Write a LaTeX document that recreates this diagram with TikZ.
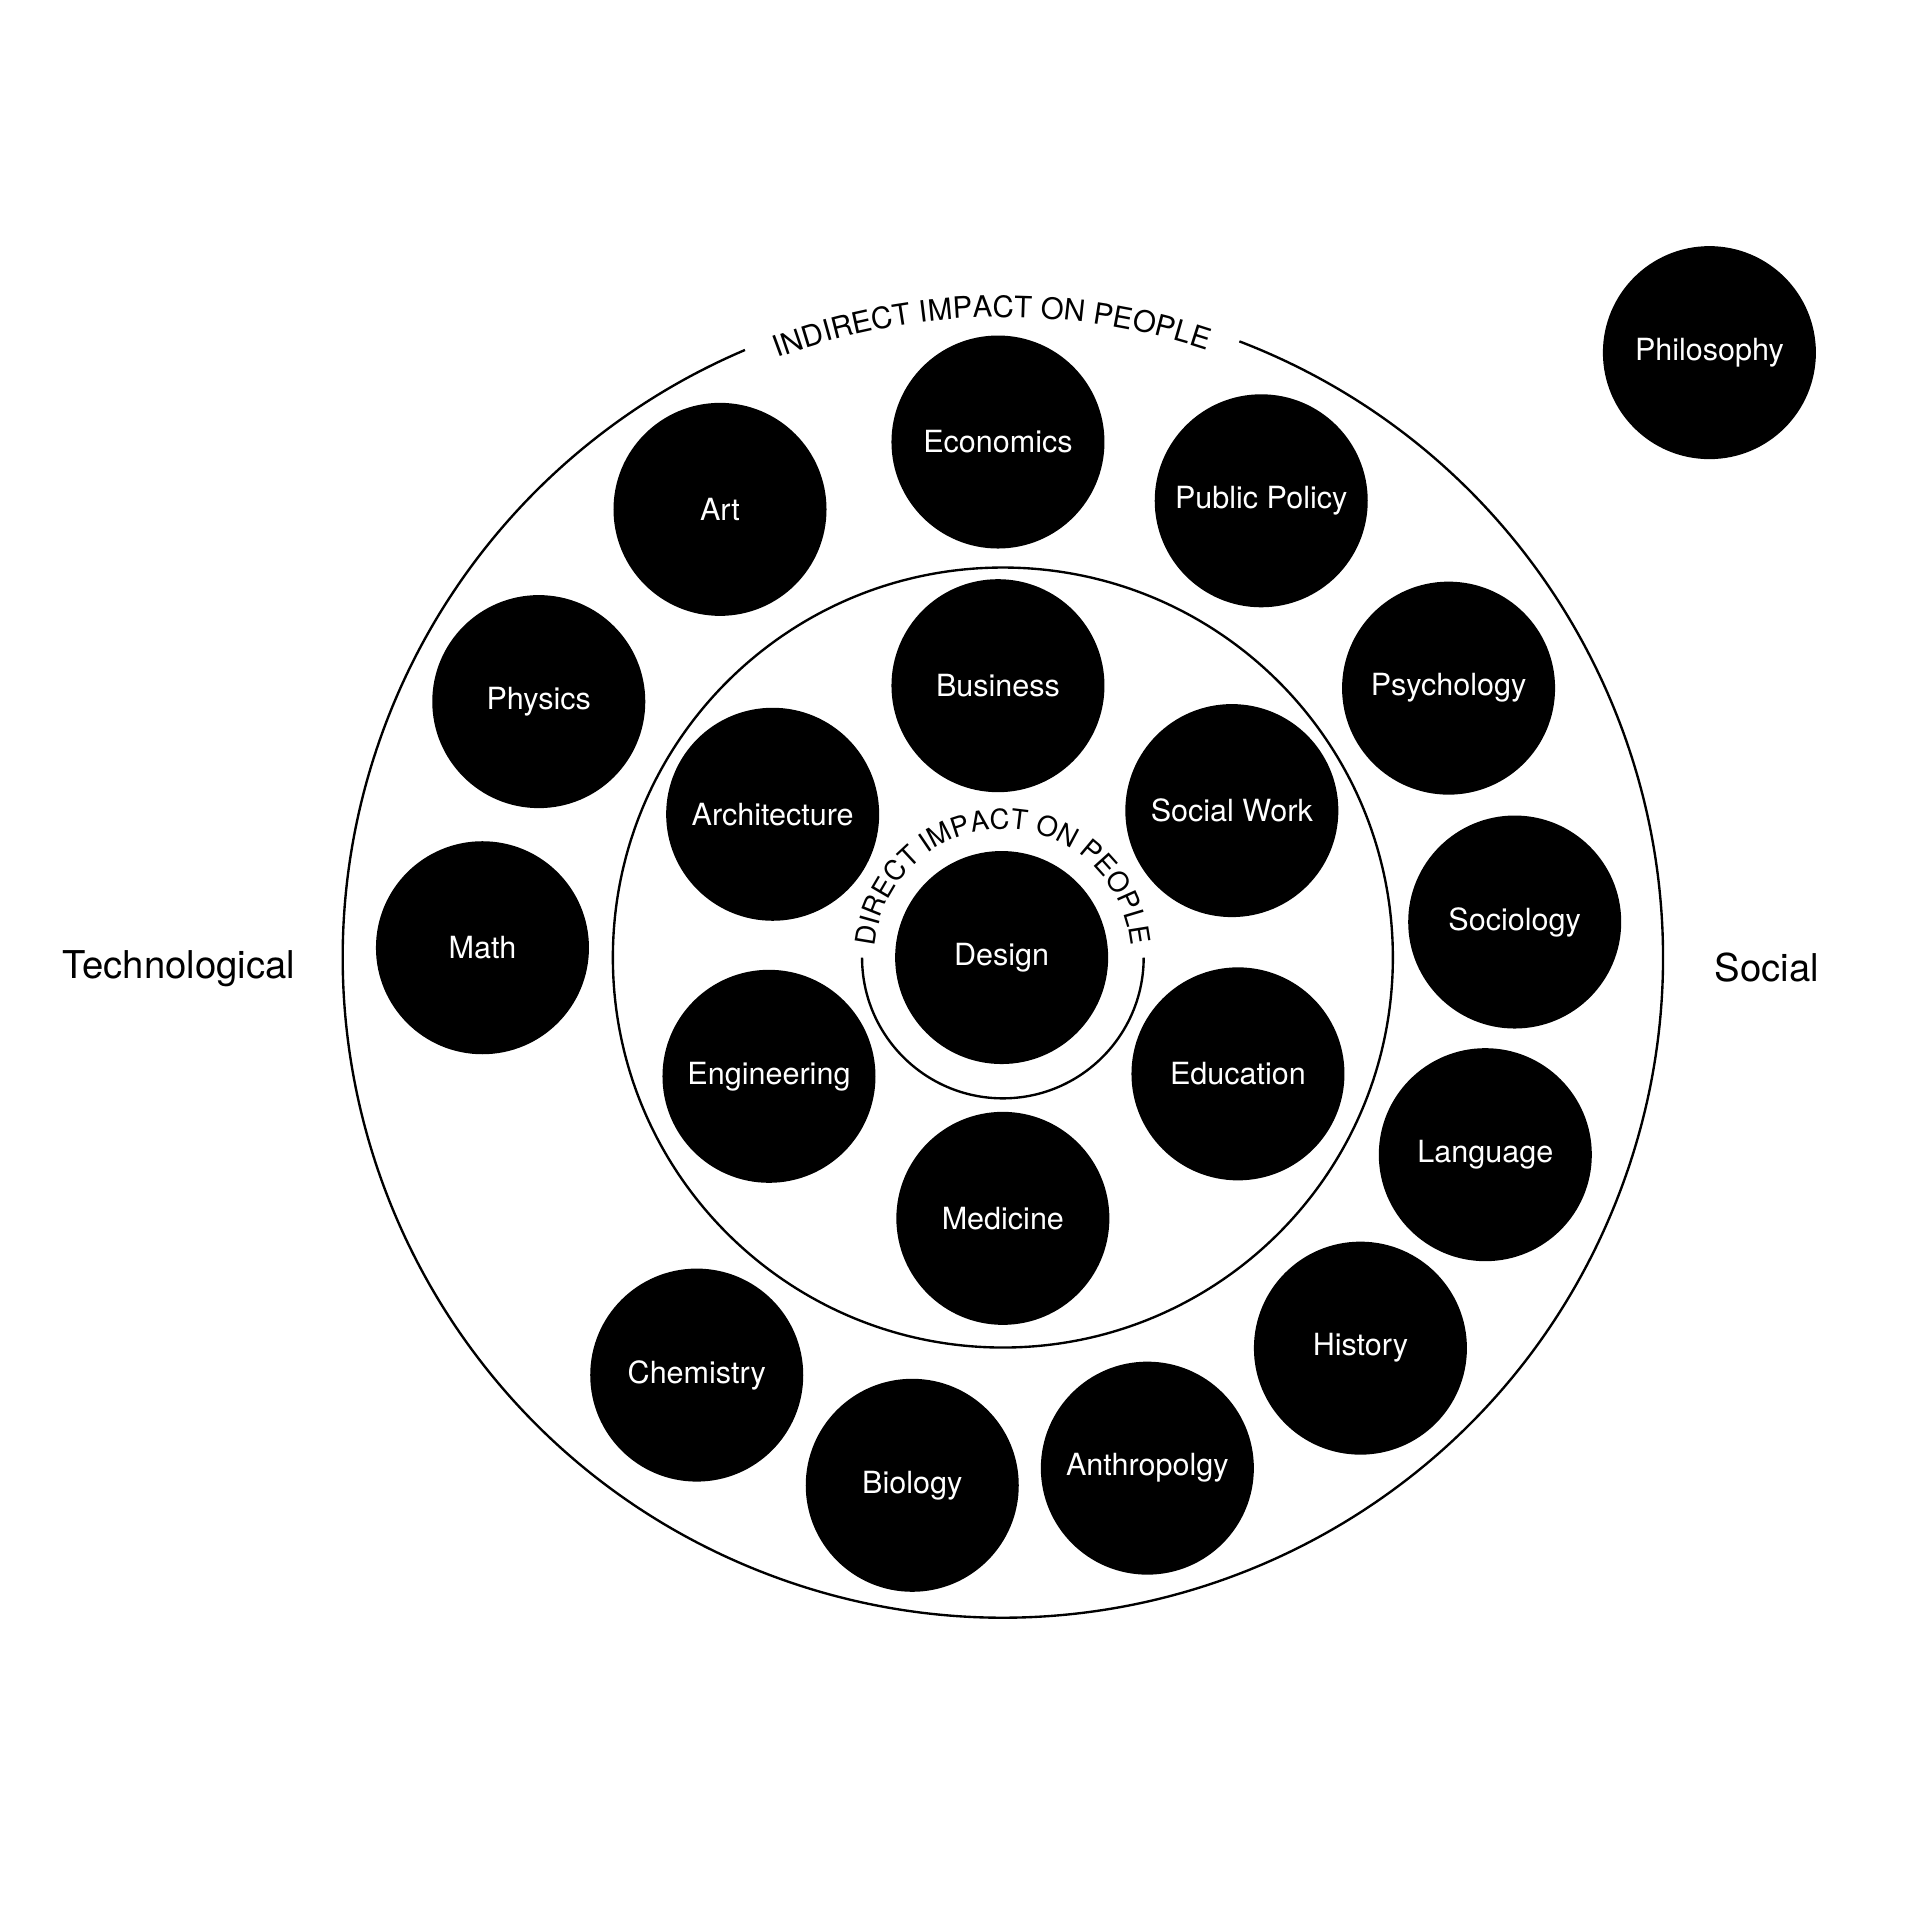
\documentclass[tikz,border=0pt]{standalone}
\usepackage{fontspec}
\setmainfont{TeX Gyre Heros}
\usetikzlibrary{decorations.text}
\newcommand\outerfont{\fontsize{13.7}{16}\selectfont}
\newcommand\innerfont{\fontsize{12.8}{15}\selectfont}
\begin{document}
\begin{tikzpicture}[x=0.02cm,y=0.02cm,
  disc/.style={circle,fill=black,text=white,minimum size=3.48cm,inner sep=0pt,font=\fontsize{14.2}{17}\selectfont},
  side/.style={font=\fontsize{17.8}{21}\selectfont},
  ring/.style={line width=1.1pt}]
\useasboundingbox (0,0) rectangle (1568,1568);
\coordinate (c) at (819,786);

\draw[ring] (c) ++(69:539) arc[start angle=69,end angle=-247,radius=539];
\draw[ring] (c) circle[radius=318.5];
\draw[ring] (c) ++(180:115) arc[start angle=180,end angle=360,radius=115];

\path[decorate,decoration={text along path,text align=center,text={|\outerfont|INDIRECT IMPACT ON PEOPLE}}]
  (c) ++(113:523) arc[start angle=113,end angle=69,radius=523];
\path[decorate,decoration={text along path,text align=center,text={|\innerfont|DIRECT IMPACT ON PEOPLE}}]
  (c) ++(180:105) arc[start angle=180,end angle=0,radius=105];

\node[disc] (phil) at (1396,1280) {Philosophy};
\node[disc] (econ) at (815,1207) {Economics};
\node[disc] (art) at (588,1152) {Art};
\node[disc] (policy) at (1030,1159) {Public Policy};
\node[disc] (phys) at (440,995) {Physics};
\node[disc] (bus) at (815,1008) {Business};
\node[disc] (psych) at (1183,1006) {Psychology};
\node[disc] (arch) at (631,903) {Architecture};
\node[disc] (work) at (1006,906) {Social Work};
\node[disc] (math) at (394,794) {Math};
\node[disc] (design) at (818,786) {Design};
\node[disc] (soc) at (1237,815) {Sociology};
\node[disc] (eng) at (628,689) {Engineering};
\node[disc] (edu) at (1011,691) {Education};
\node[disc] (lang) at (1213,625) {Language};
\node[disc] (med) at (819,573) {Medicine};
\node[disc] (hist) at (1111,467) {History};
\node[disc] (chem) at (569,445) {Chemistry};
\node[disc] (bio) at (745,355) {Biology};
\node[disc] (anth) at (937,369) {Anthropolgy};

\node[side] (tech) at (146,777) {Technological};
\node[side] (social) at (1443,778) {Social};
\end{tikzpicture}
\end{document}
